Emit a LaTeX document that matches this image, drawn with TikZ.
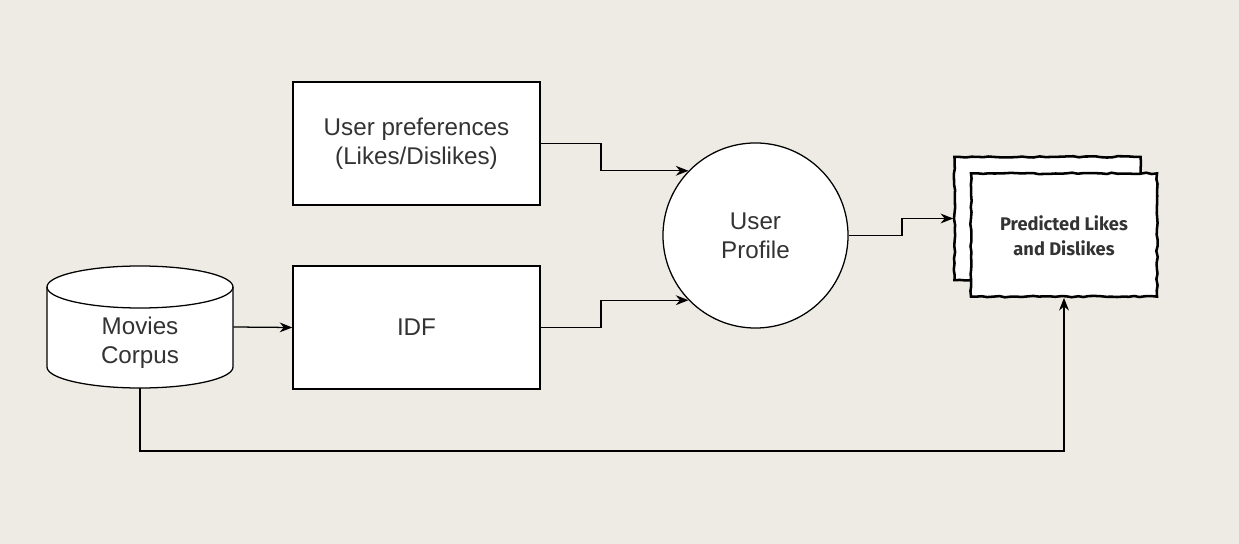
\documentclass[tikz,border=0pt]{standalone}
\usepackage{fontspec}
\setmainfont{Liberation Sans}
\newfontfamily\sketchfont{Fira Sans}
\usetikzlibrary{arrows.meta}
\usetikzlibrary{decorations.pathmorphing}
\definecolor{paper}{HTML}{EEEBE4}
\definecolor{ink}{HTML}{333333}
\tikzset{
    box/.style={rectangle,draw,fill=white,line width=0.9pt,minimum width=6.175cm,minimum height=3.075cm,
        text=ink,font=\fontsize{17.2}{20.5}\selectfont,align=center},
    sketchbox/.style={rectangle,draw,fill=white,line width=1.8pt,minimum width=4.65cm,minimum height=3.08cm,
        decorate,decoration={random steps,segment length=4pt,amplitude=0.5pt}},
    arr/.style={-{Stealth[length=9pt,width=7pt]},line width=0.9pt},
}
\begin{document}
\begin{tikzpicture}[x=0.025cm,y=-0.025cm]
    \pgfmathsetseed{7}
    \fill[paper] (0,0) rectangle (1239,544);
    \useasboundingbox (0,0) rectangle (1239,544);
    \node at (416.5,143.5) [box] (prefs) {User preferences\\(Likes/Dislikes)};
    \node at (416.5,327.5) [box] (idf) {IDF};
    \node at (755.5,235.5) [circle,draw,fill=white,line width=0.9pt,minimum size=4.625cm,
        text=ink,font=\fontsize{17.2}{20.5}\selectfont,align=center] (profile) {User\\Profile};
    \node at (140,327) [rectangle,minimum width=4.65cm,minimum height=3.05cm] (corpus) {};
    \draw[line width=0.9pt,fill=white] (47,287) -- (47,367) arc[start angle=180,end angle=0,x radius=93,y radius=21]
        -- (233,287) arc[start angle=0,end angle=-180,x radius=93,y radius=21] -- cycle;
    \draw[line width=0.9pt] (47,287) arc[start angle=180,end angle=0,x radius=93,y radius=21];
    \node at (140,343) [text=ink,font=\fontsize{17.2}{20.5}\selectfont,align=center] (corpuslabel) {Movies\\Corpus};
    \node at (1047.5,218.5) [sketchbox] (back) {};
    \node at (1064,235) [sketchbox] (front) {};
    \node at (1064,236) [text=ink,font=\sketchfont\bfseries\fontsize{13}{17.5}\selectfont,align=center] (result) {Predicted Likes\\and Dislikes};
    \draw[arr] (prefs.east) -- (601,143.5) |- (profile.136);
    \draw[arr] (idf.east) -- (601,327.5) |- (profile.224);
    \draw[arr] (corpus.east) -- (idf.west);
    \draw[arr] (profile.east) -- (902,235.5) |- (back.west);
    \draw[arr] (corpus.south) -- (140,451) -| (front.south);
\end{tikzpicture}
\end{document}
